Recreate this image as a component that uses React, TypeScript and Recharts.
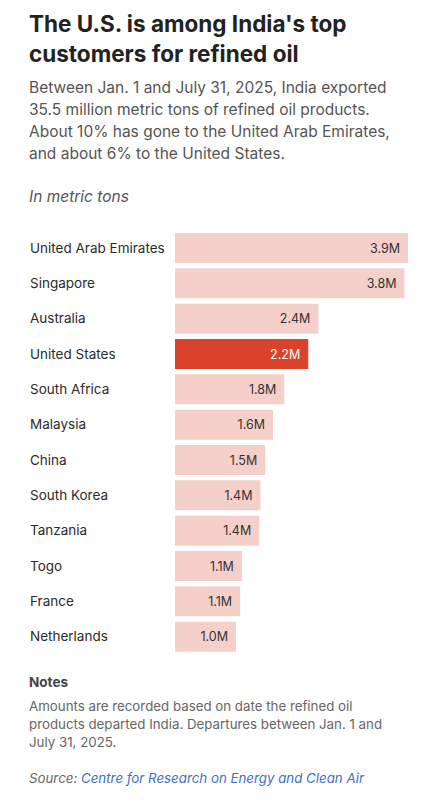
import { BarChart, Bar, XAxis, YAxis, LabelList, Cell } from 'recharts';

const countries = [
  'United Arab Emirates',
  'Singapore',
  'Australia',
  'United States',
  'South Africa',
  'Malaysia',
  'China',
  'South Korea',
  'Tanzania',
  'Togo',
  'France',
  'Netherlands',
];
// million metric tons
const tons = [3.9, 3.84, 2.4, 2.23, 1.83, 1.64, 1.51, 1.43, 1.41, 1.12, 1.09, 1.02];
const highlight = 'United States';

const subtitleLines = [
  'Between Jan. 1 and July 31, 2025, India exported',
  '35.5 million metric tons of refined oil products.',
  'About 10% has gone to the United Arab Emirates,',
  'and about 6% to the United States.',
];
const noteLines = [
  'Amounts are recorded based on date the refined oil',
  'products departed India. Departures between Jan. 1 and',
  'July 31, 2025.',
];

const data = countries.map((c, i) => ({ country: c, value: tons[i] }));

const FONT = 'Inter, "Noto Sans", sans-serif';
const PINK = '#f5d0ca';
const RED = '#d9432b';

const CountryTick = (props: any) => {
  const { y, payload } = props;
  return (
    <text x={1} y={y} dy={5} textAnchor="start" fill="#2b2b2b" fontSize={13.5} fontFamily={FONT}>
      {payload.value}
    </text>
  );
};

const ValueLabel = (props: any) => {
  const { x, y, width, height, value, index } = props;
  const isHi = countries[index] === highlight;
  return (
    <text
      x={x + width - 8}
      y={y + height / 2}
      dy={4.5}
      textAnchor="end"
      fill={isHi ? '#ffffff' : '#333333'}
      fontSize={12.5}
      fontFamily={FONT}
    >
      {`${Number(value).toFixed(1)}M`}
    </text>
  );
};

export default function App() {
  return (
    <div style={{ position: 'relative', margin: -8, width: 438, height: 800, background: '#fff', fontFamily: FONT, overflow: 'hidden' }}>
      <div style={{ position: 'absolute', left: 29, top: 9, width: 400, fontSize: 22.5, lineHeight: '30px', fontWeight: 700, color: '#222' }}>
        The U.S. is among India's top<br />customers for refined oil
      </div>
      <div style={{ position: 'absolute', left: 29, top: 77, whiteSpace: 'nowrap', fontSize: 15.5, lineHeight: '22px', color: '#555' }}>
        {subtitleLines.map((l) => <div key={l}>{l}</div>)}
      </div>
      <div style={{ position: 'absolute', left: 29, top: 186, fontSize: 15.5, lineHeight: '22px', fontStyle: 'italic', color: '#555' }}>
        In metric tons
      </div>
      <div style={{ position: 'absolute', left: 29, top: 222 }}>
        <BarChart
          width={385}
          height={432}
          data={data}
          layout="vertical"
          margin={{ top: 8, right: 0, bottom: 0, left: 0 }}
        >
          <XAxis type="number" domain={[0, 4]} hide />
          <YAxis
            type="category"
            dataKey="country"
            width={146}
            axisLine={false}
            tickLine={false}
            tick={<CountryTick />}
            interval={0}
          />
          <Bar dataKey="value" barSize={30} isAnimationActive={false}>
            {data.map((d) => (
              <Cell key={d.country} fill={d.country === highlight ? RED : PINK} />
            ))}
            <LabelList dataKey="value" content={<ValueLabel />} />
          </Bar>
        </BarChart>
      </div>
      <div style={{ position: 'absolute', left: 29, top: 673, fontSize: 13.5, lineHeight: '18px', fontWeight: 700, color: '#444' }}>
        Notes
      </div>
      <div style={{ position: 'absolute', left: 29, top: 697, whiteSpace: 'nowrap', fontSize: 13.3, lineHeight: '18px', color: '#666' }}>
        {noteLines.map((l) => <div key={l}>{l}</div>)}
      </div>
      <div style={{ position: 'absolute', left: 29, top: 769, fontSize: 13.3, lineHeight: '18px', fontStyle: 'italic', color: '#666' }}>
        Source: <span style={{ color: '#3d6fc7' }}>Centre for Research on Energy and Clean Air</span>
      </div>
      <div style={{ position: 'absolute', left: 10, top: 796, width: 418, height: 10, borderRadius: 8, background: '#34415e' }} />
    </div>
  );
}
